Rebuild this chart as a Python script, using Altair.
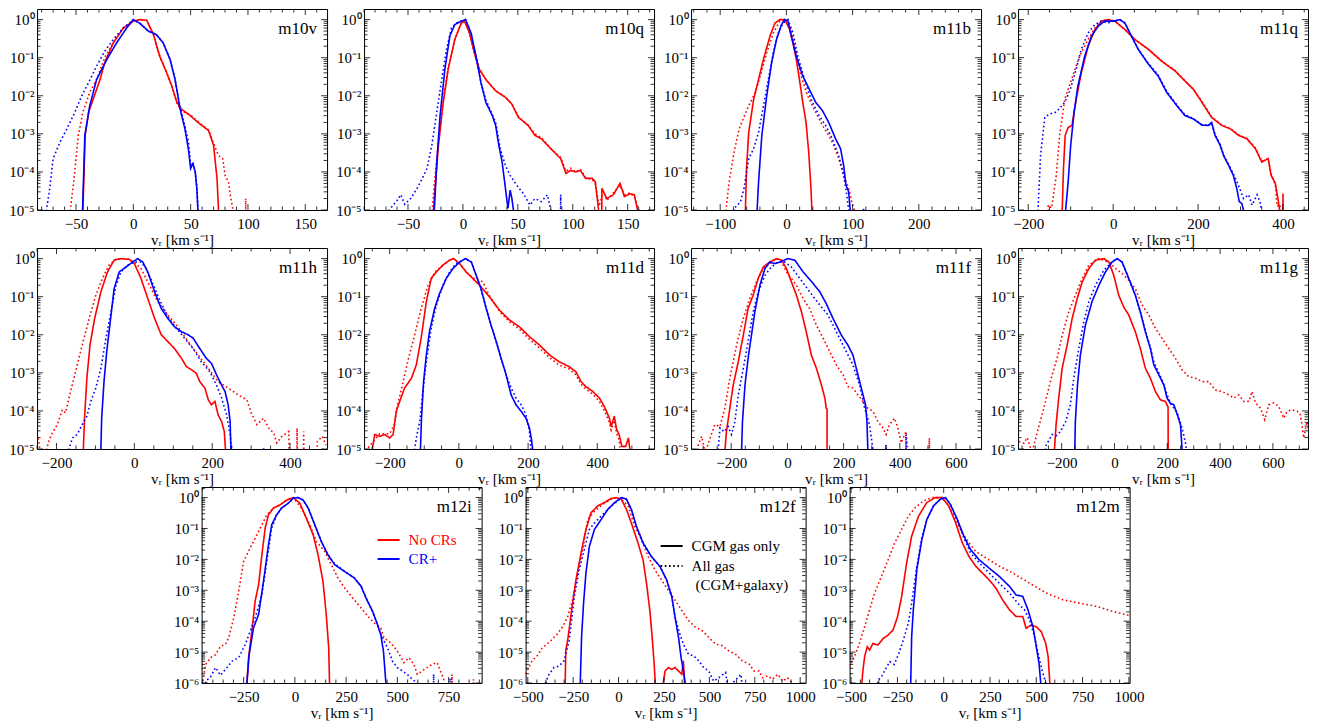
import numpy as np
import pandas as pd
import altair as alt

# each curve: (v_r in km/s, log10 of the normalised distribution)
# points far below the axis (-9) make the curve drop straight to the bottom edge

m10v_nocr_cgm = [(-44, -9), (-44, -5), (-42, -3.04), (-39, -2.43), (-34, -2.0), (-29, -1.57), (-25, -1.13),
                 (-17.5, -0.61), (-8.7, -0.22), (0, -0.04), (5.8, 0), (11.7, -0.02), (17.5, -0.39), (23, -0.96),
                 (29, -1.39), (33.5, -1.74), (38, -2.17), (42, -2.35), (49.6, -2.52), (58, -2.74), (65.6, -2.91),
                 (70, -3.3), (73, -4.17), (74.3, -5), (74.3, -9)]
m10v_nocr_all = [(-57, -9), (-55, -5), (-52, -4.26), (-48, -3.04), (-44, -2.43), (-38, -1.91), (-32, -1.57),
                 (-25, -1.0), (-17.5, -0.61), (-8.7, -0.22), (0, -0.04), (5.8, 0), (11.7, -0.02), (17.5, -0.39),
                 (23, -0.96), (29, -1.39), (33.5, -1.74), (38, -2.2), (42, -2.4), (49.6, -2.5), (58, -2.72),
                 (65.6, -2.9), (70, -3.25), (74.3, -3.57), (78, -3.65), (80, -4.09), (83, -4.26), (84.5, -4.6),
                 (87, -5), (88, -9), (97, -9), (98, -4.7), (99, -9)]
m10v_cr_cgm = [(-44.3, -9), (-44.3, -5), (-42.3, -3.04), (-38, -2.26), (-32, -1.57), (-23, -1.04), (-14.6, -0.61),
               (-5.8, -0.22), (0, 0), (5.8, -0.1), (13, -0.3), (20, -0.39), (26, -0.61), (32, -1.04),
               (36.4, -1.57), (40.8, -2.35), (45, -2.87), (48, -3.39), (50, -3.91), (52, -3.78), (54, -4.0),
               (55.4, -4.43), (56.3, -5), (56.3, -9)]
m10v_cr_all = [(-77, -9), (-75.8, -5), (-72.9, -4.43), (-70, -3.65), (-64, -3.22), (-58, -2.87), (-51, -2.43),
               (-45, -2.0), (-39, -1.65), (-32, -1.22), (-25, -0.83), (-17.5, -0.52), (-8.7, -0.22), (0, 0),
               (5.8, -0.1), (13, -0.3), (20, -0.39), (26, -0.61), (32, -1.04), (36.4, -1.57), (40.8, -2.3),
               (45, -2.8), (48, -3.2), (50, -3.8), (52, -3.75), (54, -4.0), (55.4, -4.4), (56.5, -5), (56.5, -9)]

m10q_nocr_cgm = [(-26.8, -9), (-26.8, -5), (-25.3, -4.43), (-22.3, -3.3), (-17.9, -2.17), (-13.4, -1.3),
                 (-7.4, -0.52), (-1.5, -0.09), (1.5, -0.04), (6, -0.35), (10.4, -0.87), (14.9, -1.3),
                 (20.8, -1.57), (29.8, -1.87), (38.7, -2.04), (44.6, -2.22), (50.6, -2.57), (59.5, -2.78),
                 (65.5, -3.04), (71.4, -3.13), (80, -3.39), (89, -3.65), (93.8, -4.04), (98, -3.96),
                 (102.7, -4.0), (107, -3.96), (111.6, -4.17), (117.6, -4.17), (120.5, -4.26), (123.5, -5),
                 (124, -9), (126, -9), (126.5, -4.43), (131, -4.7), (137, -4.6), (143, -4.3), (147, -4.65),
                 (152, -4.57), (156, -4.6), (159, -5), (159, -9)]
m10q_nocr_all = [(-28, -9), (-28, -5), (-26, -4.3), (-22.3, -3.25), (-17.9, -2.1), (-13.4, -1.28), (-7.4, -0.52),
                 (-1.5, -0.09), (1.5, -0.04), (6, -0.35), (10.4, -0.87), (14.9, -1.3), (20.8, -1.57),
                 (29.8, -1.87), (38.7, -2.04), (44.6, -2.22), (50.6, -2.55), (59.5, -2.78), (65.5, -3.0),
                 (71.4, -3.1), (80, -3.39), (89, -3.62), (93.8, -3.98), (98, -3.9), (102.7, -4.0), (107, -3.93),
                 (111.6, -4.15), (117.6, -4.2), (120.5, -4.3), (124, -4.9), (128, -4.5), (131, -4.75),
                 (137, -4.55), (143, -4.35), (147, -4.6), (152, -4.55), (156, -4.65), (160, -5), (160, -9)]
m10q_cr_cgm = [(-26, -9), (-26, -5), (-23.8, -3.74), (-20.8, -2.52), (-16.4, -1.3), (-11.9, -0.43), (-7.4, -0.13),
               (-1.5, -0.04), (2.4, 0), (7.4, -0.35), (11.9, -0.96), (16.4, -1.65), (20.8, -2.17), (26.8, -2.52),
               (29.8, -2.78), (32.7, -3.3), (35.7, -3.74), (38.7, -4.43), (41, -4.96), (43, -4.48),
               (44.6, -4.7), (46, -5), (46, -9)]
m10q_cr_all = [(-67, -9), (-67, -5), (-60, -4.75), (-56.5, -4.6), (-53, -4.85), (-47.6, -4.7), (-41.7, -4.43),
               (-37, -4.17), (-32.7, -3.91), (-28.3, -3.3), (-23.8, -2.43), (-19.3, -1.57), (-14.9, -0.78),
               (-10.4, -0.22), (-5.8, -0.09), (-1.5, -0.04), (2.4, 0), (7.4, -0.35), (11.9, -0.96),
               (16.4, -1.65), (20.8, -2.1), (26.8, -2.5), (29.8, -2.7), (34, -3.39), (38.7, -3.83), (43, -4.09),
               (49, -4.35), (55, -4.57), (61, -4.87), (65.5, -4.7), (71.4, -4.78), (77, -4.6), (80, -5),
               (80, -9), (88, -9), (89, -4.6), (90, -9)]

m11b_nocr_cgm = [(-61.9, -9), (-61.9, -5), (-60.2, -3.91), (-56.9, -2.96), (-49.4, -2.09), (-42, -1.57),
                 (-34.6, -1.04), (-24.7, -0.43), (-17.3, -0.09), (-9.9, 0), (-2.4, 0), (5, -0.26), (9.9, -0.61),
                 (14.9, -1.04), (19.7, -1.57), (24.7, -2.17), (29.7, -2.7), (33.7, -3.48), (37.1, -4.43),
                 (38.5, -5), (38.5, -9)]
m11b_nocr_all = [(-92, -9), (-91.2, -5), (-86.5, -4.26), (-79, -3.48), (-71.4, -2.87), (-59.2, -2.35),
                 (-47, -1.91), (-39.5, -1.48), (-29.7, -0.87), (-19.7, -0.35), (-9.9, -0.04), (0, 0), (7.4, -0.26),
                 (14.9, -0.87), (22.3, -1.48), (32, -2.0), (44.2, -2.43), (54.5, -2.78), (63.9, -3.04),
                 (71.4, -3.3), (79, -3.65), (86.5, -4.09), (94, -4.43), (98.7, -4.78), (102.5, -5), (102.5, -9)]
m11b_cr_cgm = [(-44.2, -9), (-44.2, -5), (-42, -4.26), (-37.1, -3.04), (-29.7, -2.0), (-22.3, -1.13),
               (-14.9, -0.52), (-7.4, -0.13), (-2.4, 0), (2.4, -0.04), (7.4, -0.43), (14.9, -0.96), (24.7, -1.48),
               (34.6, -1.83), (44.2, -2.17), (54.5, -2.39), (63.9, -2.7), (74.3, -3.13), (81.8, -3.39),
               (86.5, -3.83), (90, -4.35), (94, -4.52), (96.4, -5), (96.4, -9)]
m11b_cr_all = [(-80, -9), (-79, -4.95), (-75.2, -4.9), (-69.3, -4.78), (-63.9, -4.43), (-56.9, -3.65),
               (-49.4, -3.39), (-42, -2.96), (-34.6, -2.26), (-27.3, -1.57), (-19.7, -0.87), (-12.2, -0.35),
               (-5, -0.09), (2.4, 0), (9.9, -0.35), (17.3, -0.96), (27.3, -1.57), (37.1, -2.09), (49.4, -2.52),
               (59.2, -2.78), (69.3, -3.13), (79, -3.57), (86.5, -4.09), (91.2, -4.6), (94, -5), (94, -9),
               (115.6, -9), (116.6, -4.95), (117.5, -9)]

m11q_nocr_cgm = [(-120, -9), (-120, -5), (-117, -3.91), (-113, -3.04), (-106, -2.83), (-97, -2.78), (-87, -2.09),
                 (-75, -1.39), (-59, -0.7), (-43, -0.26), (-27.6, -0.04), (-11.8, 0), (4, -0.04), (27.6, -0.26),
                 (51, -0.52), (83, -0.78), (114, -1.09), (146, -1.35), (169, -1.61), (189, -1.83), (209, -2.17),
                 (232, -2.57), (256, -2.78), (276, -2.87), (295, -3.04), (315, -3.13), (335, -3.39),
                 (350, -3.74), (365, -3.65), (372, -4.09), (382, -4.3), (388, -4.7), (392, -5), (392, -9),
                 (399, -9), (400, -4.57), (401, -9)]
m11q_nocr_all = [(-155, -9), (-153, -4.87), (-145, -4.95), (-134, -4.09), (-126, -3.04), (-114, -2.09),
                 (-98, -1.57), (-79, -0.96), (-59, -0.52), (-43, -0.22), (-27.6, -0.04), (-11.8, 0), (4, -0.04),
                 (27.6, -0.26), (51, -0.52), (83, -0.78), (114, -1.08), (146, -1.34), (169, -1.6), (189, -1.83),
                 (209, -2.15), (232, -2.55), (256, -2.77), (276, -2.86), (295, -3.02), (315, -3.12),
                 (335, -3.37), (350, -3.72), (365, -3.66), (372, -4.05), (382, -4.35), (386, -4.9),
                 (392, -4.85), (395, -5), (395, -9)]
m11q_cr_cgm = [(-112, -9), (-112, -5), (-106, -4.26), (-100, -3.3), (-92, -2.43), (-83, -1.74), (-67, -0.96),
               (-51, -0.43), (-35, -0.17), (-20, -0.04), (4, -0.04), (16, 0), (27.6, -0.09), (43, -0.43),
               (59, -0.78), (83, -1.17), (106, -1.48), (126, -1.91), (150, -2.26), (169, -2.52), (189, -2.61),
               (209, -2.77), (224, -2.78), (232, -2.7), (240, -3.04), (252, -3.3), (260, -3.57), (272, -3.83),
               (283, -4.09), (291, -4.43), (297, -4.78), (303, -4.83), (307, -5), (307, -9)]
m11q_cr_all = [(-178, -9), (-177, -5), (-171, -3.57), (-161, -2.57), (-150, -2.48), (-134, -2.43), (-114, -2.17),
               (-102, -1.87), (-87, -1.3), (-75, -0.78), (-59, -0.35), (-43, -0.13), (-27.6, -0.04),
               (-12, -0.09), (4, -0.02), (16, 0), (27.6, -0.09), (43, -0.43), (59, -0.78), (83, -1.15),
               (106, -1.46), (126, -1.88), (150, -2.24), (169, -2.5), (189, -2.6), (209, -2.76), (224, -2.78),
               (232, -2.72), (240, -3.02), (252, -3.28), (260, -3.55), (272, -3.8), (283, -4.05), (295, -4.35),
               (307, -4.7), (319, -4.6), (327, -4.87), (339, -4.6), (346, -4.78), (349, -5), (349, -9)]

m11h_nocr_cgm = [(-131, -9), (-131, -5), (-128, -4.19), (-122, -3.14), (-114, -2.27), (-102, -1.57),
                 (-86, -0.87), (-69, -0.35), (-52, -0.04), (-34.5, 0), (-13, -0.02), (0, -0.13), (17, -0.52),
                 (34.5, -1.05), (52, -1.57), (69, -2.0), (86, -2.18), (103, -2.36), (121, -2.62), (134, -2.84),
                 (147, -2.92), (159, -3.01), (168, -3.23), (181, -3.4), (190, -3.71), (198, -3.84),
                 (207, -3.75), (215, -4.1), (224, -4.28), (231, -4.54), (234, -5), (234, -9)]
m11h_nocr_all = [(-247, -4.71), (-240, -5.2), (-230, -5.2), (-220, -4.8), (-211, -4.58), (-198, -4.36),
                 (-185, -3.97), (-177, -4.05), (-164, -3.49), (-151, -2.97), (-134, -2.27), (-116, -1.57),
                 (-99, -0.96), (-82, -0.52), (-65, -0.17), (-48, -0.02), (-34.5, 0), (-13, -0.02), (0, -0.1),
                 (17, -0.26), (39, -0.7), (60, -1.13), (86, -1.48), (112, -1.79), (138, -2.18), (164, -2.53),
                 (190, -2.88), (215, -3.23), (241, -3.4), (267, -3.58), (289, -3.71), (302, -4.1), (315, -4.36),
                 (332, -4.19), (345, -4.45), (358, -4.58), (366, -4.84), (379, -4.67), (397, -4.54), (400, -9),
                 (416, -9), (418, -4.45), (422, -9), (433, -9), (435, -4.54), (438, -9), (466, -9), (470, -4.8),
                 (483, -4.67), (492, -4.9)]
m11h_cr_cgm = [(-86, -9), (-86, -5), (-84, -4.19), (-78, -3.23), (-71, -2.44), (-62, -1.66), (-52, -0.79),
               (-39, -0.35), (-21.5, -0.22), (-4.3, -0.09), (8.6, 0), (21.5, -0.09), (34.5, -0.35), (52, -0.87),
               (69, -1.31), (86, -1.57), (103, -1.79), (121, -1.92), (138, -2.0), (151, -2.09), (168, -2.36),
               (185, -2.62), (198, -2.75), (211, -3.05), (224, -3.32), (233, -3.49), (241, -3.84),
               (246, -4.28), (248, -5), (248, -9)]
m11h_cr_all = [(-169, -9), (-168, -5), (-159, -4.71), (-147, -4.62), (-134, -4.36), (-122, -4.14),
               (-112, -3.75), (-99, -3.4), (-86, -2.88), (-73, -2.09), (-60, -1.4), (-47, -0.7), (-34.5, -0.35),
               (-17, -0.17), (0, -0.09), (17, -0.09), (30, -0.26), (47, -0.65), (65, -1.09), (86, -1.53),
               (108, -1.83), (129, -2.09), (151, -2.36), (172, -2.71), (194, -2.97), (211, -3.32), (224, -3.66),
               (237, -4.1), (246, -4.62), (250, -5), (250, -9), (330, -9), (332, -4.97), (334, -9)]

m11d_nocr_cgm = [(-250, -9), (-250, -5), (-243, -4.62), (-229, -4.67), (-214, -4.62), (-200, -4.71),
                 (-190, -4.62), (-181, -4.01), (-171, -3.75), (-157, -3.4), (-137, -3.14), (-123, -2.79),
                 (-109, -2.09), (-94, -1.13), (-80, -0.52), (-65, -0.35), (-46, -0.17), (-27, -0.04), (-15, 0),
                 (2, -0.13), (21, -0.35), (40, -0.52), (60, -0.7), (88, -1.0), (117, -1.35), (146, -1.61),
                 (175, -1.79), (204, -2.05), (233, -2.27), (262, -2.53), (290, -2.71), (319, -2.84),
                 (338, -2.97), (353, -3.23), (367, -3.36), (387, -3.49), (406, -3.66), (420, -3.88),
                 (435, -4.19), (440, -4.41), (449, -4.14), (456, -4.49), (463, -4.62), (471, -4.93),
                 (482, -4.93), (490, -4.71), (494, -5), (494, -9)]
m11d_nocr_all = [(-262, -4.97), (-229, -4.6), (-200, -4.6), (-186, -4.36), (-176, -3.8), (-161, -3.23),
                 (-148, -2.71), (-128, -2.01), (-109, -1.31), (-89, -0.7), (-69, -0.35), (-46, -0.17),
                 (-27, -0.04), (-15, 0), (2, -0.13), (21, -0.35), (40, -0.5), (69, -0.61), (88, -0.97),
                 (117, -1.38), (146, -1.66), (175, -1.85), (204, -2.12), (233, -2.35), (262, -2.6), (290, -2.8),
                 (319, -2.9), (338, -3.05), (353, -3.3), (367, -3.42), (387, -3.56), (406, -3.75), (420, -3.98),
                 (435, -4.3), (440, -4.5), (449, -4.25), (456, -4.6), (463, -4.75), (466, -5), (466, -9)]
m11d_cr_cgm = [(-111, -9), (-111, -5), (-108, -4.19), (-102, -3.23), (-94, -2.53), (-85, -1.92), (-70, -1.31),
               (-56, -0.92), (-36.5, -0.52), (-17, -0.26), (2, -0.09), (19, 0), (36, -0.09), (50, -0.44),
               (64, -0.79), (79, -1.31), (93, -1.75), (108, -2.18), (122, -2.62), (136.5, -3.05), (151, -3.58),
               (165, -3.84), (180, -4.01), (194, -4.19), (204, -4.45), (210, -4.76), (213, -5), (213, -9)]
m11d_cr_all = [(-128, -9), (-128, -5), (-121, -4.62), (-113, -4.28), (-104, -3.49), (-94, -2.71), (-80, -1.83),
               (-65, -1.22), (-46, -0.7), (-27, -0.35), (-8, -0.13), (2, -0.09), (19, 0), (36, -0.09),
               (50, -0.44), (64, -0.79), (79, -1.31), (93, -1.75), (108, -2.18), (122, -2.62), (136.5, -3.05),
               (151, -3.4), (165, -3.66), (180, -3.84), (194, -4.1), (204, -4.54), (208, -5), (208, -9)]

m11f_nocr_cgm = [(-222, -9), (-222, -5), (-217, -4.54), (-205, -3.93), (-193, -3.32), (-175, -2.71),
                 (-157, -2.01), (-140, -1.31), (-122, -0.96), (-104, -0.52), (-86, -0.22), (-63, -0.09),
                 (-39, 0), (-21, -0.04), (-3.6, -0.26), (14, -0.61), (32, -0.96), (50, -1.4), (67, -1.92),
                 (85, -2.53), (103, -2.88), (121, -3.32), (133, -3.66), (138, -3.93), (141, -3.95), (141, -9)]
m11f_nocr_all = [(-320, -9), (-317, -4.89), (-305, -4.67), (-293, -5.1), (-270, -4.6), (-258, -4.36),
                 (-240, -4.41), (-222, -3.9), (-205, -3.14), (-181, -2.27), (-157, -1.57), (-134, -1.05),
                 (-110, -0.61), (-86, -0.26), (-63, -0.13), (-39, 0), (-21, -0.09), (-3.6, -0.35), (14, -0.52),
                 (32, -0.7), (56, -1.05), (79, -1.31), (103, -1.75), (127, -2.09), (150, -2.44), (174, -2.79),
                 (198, -3.05), (215, -3.36), (233, -3.4), (251, -3.58), (269, -3.75), (286, -3.93), (304, -4.01),
                 (322, -4.28), (340, -4.45), (351, -4.62), (363, -4.36), (381, -4.19), (393, -4.45),
                 (405, -4.84), (422, -4.54), (428, -5), (428, -9), (503, -9), (505, -4.71), (507, -9)]
m11f_cr_cgm = [(-163, -9), (-163, -5), (-160, -4.28), (-151, -3.32), (-140, -2.62), (-128, -2.01), (-116, -1.4),
               (-98, -0.7), (-80, -0.26), (-63, -0.09), (-45, -0.13), (-27, -0.09), (2, 0), (26, -0.04),
               (56, -0.35), (91, -0.65), (115, -0.87), (138, -1.18), (162, -1.57), (192, -2.01), (215, -2.27),
               (233, -2.53), (245, -2.88), (257, -3.23), (269, -3.58), (278, -3.84), (283, -4.28), (286, -5),
               (286, -9)]
m11f_cr_all = [(-246, -9), (-246, -5), (-240, -4.45), (-225, -4.55), (-211, -4.41), (-199, -4.62),
               (-187, -4.28), (-175, -3.58), (-157, -2.88), (-140, -2.18), (-122, -1.4), (-104, -0.87),
               (-80, -0.44), (-57, -0.22), (-33, -0.09), (-9.5, -0.09), (14, -0.22), (44, -0.52), (79, -0.87),
               (115, -1.22), (144, -1.48), (174, -1.92), (204, -2.36), (233, -2.79), (257, -3.32), (275, -3.93),
               (292, -4.36), (304, -5), (304, -9), (349, -9), (351, -4.89), (353, -9), (420, -9),
               (422, -4.62), (424, -9)]

m11g_nocr_cgm = [(-227, -9), (-227, -5), (-221, -4.36), (-211, -3.66), (-198, -2.88), (-179, -2.27),
                 (-160, -1.57), (-141, -1.05), (-122, -0.61), (-97, -0.26), (-72, -0.04), (-40, 0), (-21, -0.09),
                 (-2.5, -0.44), (16, -0.96), (35, -1.27), (54, -1.48), (79, -1.92), (98, -2.36), (117, -2.88),
                 (136, -3.14), (155, -3.49), (174, -3.71), (193, -3.75), (203, -3.9), (205, -9)]
m11g_nocr_all = [(-362, -4.8), (-343, -4.85), (-330, -4.7), (-312, -5.1), (-293, -4.58), (-274, -4.1),
                 (-255, -3.58), (-236, -3.05), (-217, -2.62), (-198, -2.01), (-173, -1.4), (-148, -0.96),
                 (-122, -0.52), (-97, -0.17), (-60, 0), (-21, -0.09), (4, -0.26), (29, -0.39), (54, -0.57),
                 (79, -0.79), (105, -1.22), (130, -1.48), (155, -1.83), (180, -2.09), (206, -2.36), (231, -2.62),
                 (256, -2.92), (281, -3.1), (307, -3.14), (332, -3.23), (357, -3.23), (382, -3.45), (408, -3.49),
                 (433, -3.58), (452, -3.66), (471, -3.58), (490, -3.75), (509, -3.75), (521, -3.49),
                 (534, -3.79), (553, -3.93), (569, -4.23), (584, -3.84), (603, -3.79), (622, -3.88),
                 (641, -4.19), (654, -4.01), (673, -3.97), (692, -4.01), (704, -4.1), (717, -4.71),
                 (729, -4.28), (735, -4.5)]
m11g_cr_cgm = [(-150, -9), (-150, -5), (-148, -4.28), (-140, -3.32), (-129, -2.53), (-110, -1.75), (-85, -1.13),
               (-59, -0.7), (-34, -0.35), (-9, -0.09), (10, 0), (29, -0.09), (54, -0.52), (79, -0.96),
               (98, -1.4), (117, -1.92), (136, -2.36), (149, -2.79), (168, -3.05), (187, -3.32), (199, -3.66),
               (212, -3.8), (225, -3.84), (238, -4.1), (250, -4.36), (256, -5), (256, -9)]
m11g_cr_all = [(-263, -9), (-261, -4.93), (-236, -4.62), (-220, -4.65), (-204, -4.54), (-185, -4.28),
               (-167, -3.84), (-154, -3.14), (-135, -2.36), (-116, -1.66), (-97, -1.13), (-72, -0.7),
               (-40, -0.3), (-9, -0.09), (10, 0), (29, -0.09), (54, -0.52), (79, -0.96), (98, -1.4),
               (117, -1.9), (136, -2.33), (149, -2.72), (168, -3.0), (187, -3.3), (199, -3.57), (212, -3.8),
               (238, -4.05), (256, -4.45), (269, -4.84), (272, -5), (272, -9)]

m12i_nocr_cgm = [(-234, -9), (-234, -6), (-226, -5.18), (-210, -4.32), (-194, -3.35), (-177, -2.82),
                 (-161, -1.85), (-145, -0.99), (-129, -0.56), (-105, -0.34), (-73, -0.24), (-40, -0.08), (-8, 0),
                 (24, -0.18), (56, -0.67), (89, -1.2), (113, -1.85), (137, -2.71), (153, -3.78), (165, -4.86),
                 (169, -6), (169, -9)]
m12i_nocr_all = [(-456, -6.2), (-435, -5.4), (-411, -5.18), (-387, -5.08), (-363, -4.81), (-339, -4.75),
                 (-323, -4.54), (-298, -3.89), (-274, -3.03), (-250, -2.06), (-226, -1.74), (-202, -1.42),
                 (-169, -0.99), (-137, -0.56), (-105, -0.34), (-73, -0.24), (-40, -0.08), (-8, 0), (32, -0.34),
                 (73, -0.88), (105, -1.42), (145, -1.74), (177, -2.17), (210, -2.6), (242, -2.92), (282, -3.25),
                 (323, -3.57), (363, -3.89), (395, -4.11), (419, -4.22), (435, -4.54), (468, -4.7), (500, -4.97),
                 (532, -5.34), (556, -5.18), (581, -5.4), (597, -5.72), (621, -5.61), (645, -5.5), (669, -5.4),
                 (694, -5.34), (710, -5.61), (726, -5.88), (740, -9), (764, -9), (766, -5.72), (770, -9),
                 (868, -9), (871, -5.88), (874, -9)]
m12i_cr_cgm = [(-234, -9), (-234, -6), (-223, -5.08), (-202, -4.22), (-177, -3.78), (-153, -2.71), (-129, -1.53),
               (-113, -0.88), (-89, -0.56), (-65, -0.34), (-32, -0.18), (-8, -0.02), (16, 0), (40, -0.08),
               (65, -0.34), (97, -0.88), (129, -1.42), (161, -1.85), (194, -2.17), (242, -2.39), (290, -2.6),
               (323, -2.87), (347, -3.25), (379, -3.68), (403, -4.11), (419, -4.43), (432, -4.97), (444, -6),
               (444, -9)]
m12i_cr_all = [(-437, -9), (-435, -5.94), (-411, -5.8), (-387, -5.5), (-363, -5.75), (-331, -5.5),
               (-306, -5.29), (-274, -5.18), (-242, -4.75), (-218, -4.32), (-194, -3.89), (-161, -3.14),
               (-137, -2.06), (-113, -0.99), (-89, -0.56), (-65, -0.34), (-32, -0.18), (-8, -0.02), (16, 0),
               (40, -0.08), (65, -0.34), (97, -0.88), (129, -1.42), (161, -1.85), (194, -2.15), (242, -2.38),
               (290, -2.6), (323, -2.87), (347, -3.25), (379, -3.68), (403, -4.11), (419, -4.43), (452, -4.86),
               (476, -5.29), (500, -5.5), (524, -5.61), (548, -5.72), (573, -5.88), (597, -6.0), (600, -9),
               (675, -9), (677, -5.72), (680, -9), (755, -9), (757, -5.85), (760, -9)]

m12f_nocr_cgm = [(-294, -9), (-294, -6), (-291, -4.96), (-278, -4.52), (-259, -3.65), (-235, -2.67),
                 (-207, -1.8), (-180, -1.03), (-152, -0.49), (-115, -0.27), (-78, -0.16), (-41, -0.03), (-13, 0),
                 (15, -0.05), (43, -0.38), (70, -0.82), (107, -1.47), (135, -2.02), (154, -2.78), (172, -3.65),
                 (185, -4.52), (196, -5.39), (202, -6), (202, -9), (246, -9), (246, -6), (256, -5.61),
                 (274, -5.5), (293, -5.56), (311, -5.5), (330, -5.61), (348, -5.72), (357, -5.28), (363, -6),
                 (363, -9)]
m12f_nocr_all = [(-512, -5.7), (-504, -5.61), (-476, -5.28), (-448, -5.12), (-420, -4.85), (-393, -4.74),
                 (-365, -4.58), (-337, -4.41), (-309, -4.19), (-281, -3.87), (-254, -3.32), (-226, -2.45),
                 (-198, -1.69), (-170, -0.71), (-133, -0.44), (-87, -0.22), (-41, -0.05), (-13, 0), (15, -0.05),
                 (52, -0.27), (89, -0.93), (126, -1.36), (163, -1.91), (200, -2.34), (237, -2.67), (274, -3.0),
                 (311, -3.32), (348, -3.65), (385, -3.98), (422, -4.19), (459, -4.3), (496, -4.52), (533, -4.74),
                 (570, -4.79), (607, -4.96), (644, -5.07), (681, -5.28), (719, -5.39), (746, -5.61),
                 (774, -5.61), (793, -5.83), (820, -5.77), (848, -5.88), (876, -5.72), (904, -5.94),
                 (931, -5.83), (970, -6.1)]
m12f_cr_cgm = [(-211, -9), (-211, -6), (-204, -4.52), (-193, -3.43), (-180, -2.45), (-161, -1.58), (-133, -1.03),
               (-96, -0.71), (-59, -0.38), (-22, -0.16), (15, 0), (43, -0.05), (70, -0.38), (98, -0.93),
               (135, -1.47), (181, -1.91), (228, -2.23), (265, -2.67), (293, -3.21), (311, -3.87), (330, -4.52),
               (344, -5.17), (357, -5.61), (367, -6), (367, -9)]
m12f_cr_all = [(-405, -9), (-402, -6), (-383, -5.72), (-356, -5.5), (-328, -5.45), (-300, -5.28), (-272, -4.63),
               (-244, -3.21), (-217, -2.34), (-189, -1.69), (-161, -1.03), (-133, -0.82), (-96, -0.6),
               (-50, -0.33), (-5, -0.11), (15, 0), (43, -0.05), (70, -0.38), (98, -0.93), (135, -1.47),
               (181, -1.91), (228, -2.23), (265, -2.67), (293, -3.2), (311, -3.87), (337, -4.41), (357, -4.74),
               (385, -5.07), (413, -5.12), (441, -5.28), (469, -5.5), (496, -5.61), (524, -5.94), (552, -5.83),
               (589, -5.66), (600, -6.1), (620, -6.05), (674, -5.72), (680, -6.1)]

m12m_nocr_cgm = [(-442, -9), (-442, -6), (-436, -5.59), (-427, -5.15), (-413, -4.83), (-400, -4.93),
                 (-382, -4.72), (-355, -4.77), (-327, -4.56), (-300, -4.45), (-273, -4.28), (-249, -3.85),
                 (-227, -3.2), (-200, -2.11), (-173, -1.25), (-136, -0.6), (-91, -0.16), (-45, 0), (-9, 0),
                 (27, -0.27), (64, -0.81), (100, -1.46), (136, -1.9), (173, -2.22), (209, -2.44), (245, -2.66),
                 (282, -2.93), (318, -3.31), (355, -3.63), (391, -3.85), (427, -3.85), (445, -4.23),
                 (473, -4.12), (500, -4.18), (527, -4.34), (551, -4.72), (564, -5.15), (573, -6), (573, -9)]
m12m_nocr_all = [(-509, -5.48), (-482, -5.15), (-455, -4.72), (-427, -4.18), (-400, -3.63), (-373, -3.09),
                 (-336, -2.55), (-300, -2.01), (-264, -1.46), (-227, -1.03), (-191, -0.6), (-155, -0.33),
                 (-109, -0.11), (-64, 0), (-9, 0), (27, -0.27), (64, -0.7), (100, -1.14), (136, -1.46),
                 (173, -1.74), (227, -1.95), (300, -2.22), (373, -2.44), (464, -2.77), (555, -3.09), (645, -3.31),
                 (736, -3.42), (827, -3.52), (918, -3.69), (991, -3.8), (1005, -3.82)]
m12m_cr_cgm = [(-178, -9), (-178, -6), (-173, -4.5), (-164, -3.63), (-145, -2.33), (-118, -1.36), (-91, -0.71),
               (-55, -0.27), (-18, -0.05), (9, 0), (36, -0.22), (73, -0.7), (109, -1.25), (145, -1.68),
               (191, -2.01), (245, -2.28), (300, -2.55), (355, -2.87), (391, -3.15), (427, -3.2), (455, -3.63),
               (482, -4.18), (500, -4.83), (515, -5.37), (524, -6), (524, -9)]
m12m_cr_all = [(-357, -9), (-355, -5.91), (-336, -5.8), (-318, -5.59), (-291, -5.31), (-267, -5.4),
               (-242, -5.04), (-218, -4.61), (-191, -4.07), (-173, -3.42), (-145, -2.22), (-118, -1.3),
               (-91, -0.71), (-55, -0.27), (-18, -0.05), (9, 0), (36, -0.22), (73, -0.7), (109, -1.3),
               (145, -1.79), (191, -2.11), (245, -2.44), (300, -2.77), (355, -3.09), (400, -3.42), (436, -3.63),
               (464, -3.96), (491, -4.5), (518, -5.26), (536, -5.69), (551, -6), (551, -9)]

# x range and labelled tick step of each panel
x_ranges = {"m10v": [-84, 169], "m10q": [-90, 174], "m11b": [-144, 294], "m11q": [-224, 459],
            "m11h": [-250, 495], "m11d": [-274, 564], "m11f": [-343, 689], "m11g": [-365, 733],
            "m12i": [-455, 911], "m12f": [-512, 1030], "m12m": [-508, 1004]}
x_steps = {"m10v": 50, "m10q": 50, "m11b": 100, "m11q": 200, "m11h": 200, "m11d": 200, "m11f": 200,
           "m11g": 200, "m12i": 250, "m12f": 250, "m12m": 250}

RED = "#ff0000"
BLUE = "#0000ff"
FONT = "Liberation Serif"
RUNS = ["No CRs", "No CRs", "CR+", "CR+"]
GASES = ["CGM gas only", "All gas", "CGM gas only", "All gas"]
SUP = "['⁰','⁻¹','⁻²','⁻³','⁻⁴','⁻⁵','⁻⁶']"


def tick_rules(values, channel, start, length, scale, axis):
    # inward ticks drawn as short rules; they carry the same axis as the curves
    base = alt.Chart(pd.DataFrame({channel: values})).mark_rule(color="black", strokeWidth=0.8)
    if channel == "f":
        return base.encode(y=alt.Y("f:Q", scale=scale, axis=axis),
                           x=alt.value(start), x2=alt.value(start + length))
    return base.encode(x=alt.X("v:Q", scale=scale, axis=axis),
                       y=alt.value(start), y2=alt.value(start + length))


def panel(name, curves, w, h, ylow, ytop, extra=()):
    frames = []
    for pts, run, gas in zip(curves, RUNS, GASES):
        frames.append(pd.DataFrame({
            "v": [p[0] for p in pts],
            "f": [10.0 ** p[1] for p in pts],
            "run": run, "gas": gas, "key": run + "|" + gas,
            "i": range(len(pts))}))
    df = pd.concat(frames, ignore_index=True)

    xdom = x_ranges[name]
    step = x_steps[name]
    sub = 4 if step == 200 else 5
    xs = alt.Scale(domain=xdom, nice=False, zero=False)
    ys = alt.Scale(type="log", domain=[ylow, ytop], nice=False)

    kmin = int(round(np.log10(ylow)))
    y_major = [10.0 ** k for k in range(kmin, 1)]
    y_minor = [m * 10.0 ** k for k in range(kmin, 1) for m in range(2, 10) if m * 10.0 ** k < ytop]
    x_major = [float(t) for t in np.arange(np.ceil(xdom[0] / step) * step, xdom[1] + 1e-9, step)]
    fine = np.arange(np.ceil(xdom[0] / (step / sub)) * (step / sub), xdom[1] + 1e-9, step / sub)
    x_minor = [float(t) for t in fine if not np.isclose(t / step, round(t / step))]

    x_axis = alt.Axis(values=x_major, format="d", title="vᵣ [km s⁻¹]",
                      labelFontSize=15, titleFontSize=15,
                      labelFlush=False, labelOverlap=False, labelPadding=6, titlePadding=1)
    y_axis = alt.Axis(values=y_major, title=None, labelPadding=3, labelFontSize=15,
                      labelExpr="'10' + " + SUP + "[round(-log(datum.value) / LN10)]")

    lines = alt.Chart(df).mark_line(clip=True, strokeWidth=1.6, strokeCap="butt").encode(
        x=alt.X("v:Q", scale=xs, axis=x_axis),
        y=alt.Y("f:Q", scale=ys, axis=y_axis),
        color=alt.Color("run:N", scale=alt.Scale(domain=["No CRs", "CR+"], range=[RED, BLUE]), legend=None),
        strokeDash=alt.StrokeDash("gas:N", scale=alt.Scale(domain=["CGM gas only", "All gas"],
                                                           range=[[1, 0], [1.6, 2.6]]), legend=None),
        detail="key:N",
        order="i:Q",
    )

    label = alt.Chart(pd.DataFrame({"name": [name]})).mark_text(
        align="right", baseline="top", fontSize=17, font=FONT, color="black").encode(
        text="name:N", x=alt.value(w - 10), y=alt.value(12))

    ticks = [
        tick_rules(y_major, "f", 0, 6, ys, y_axis), tick_rules(y_major, "f", w - 6, 6, ys, y_axis),
        tick_rules(y_minor, "f", 0, 3.5, ys, y_axis), tick_rules(y_minor, "f", w - 3.5, 3.5, ys, y_axis),
        tick_rules(x_major, "v", h - 6, 6, xs, x_axis), tick_rules(x_major, "v", 0, 6, xs, x_axis),
        tick_rules(x_minor, "v", h - 3.5, 3.5, xs, x_axis), tick_rules(x_minor, "v", 0, 3.5, xs, x_axis),
    ]
    return alt.layer(lines, *ticks, label, *extra).properties(width=w, height=h)


def legend_entry(x0, y0, color, dash, text, text_color):
    one = pd.DataFrame({"t": [text]})
    rule = alt.Chart(one).mark_rule(color=color, strokeWidth=1.8, strokeDash=dash, strokeCap="butt").encode(
        x=alt.value(x0), x2=alt.value(x0 + 22), y=alt.value(y0))
    txt = alt.Chart(one).mark_text(align="left", baseline="middle", fontSize=15, font=FONT,
                                   color=text_color).encode(
        text="t:N", x=alt.value(x0 + 31), y=alt.value(y0))
    return [rule, txt]


def caption(x0, y0, text):
    return alt.Chart(pd.DataFrame({"t": [text]})).mark_text(
        align="left", baseline="middle", fontSize=15, font=FONT, color="black").encode(
        text="t:N", x=alt.value(x0), y=alt.value(y0))


W1, H1 = 290, 201
W3, H3 = 280, 196
top_lo, top_hi = 1e-5, 1.9
bot_lo, bot_hi = 1e-6, 2.2

row1 = alt.hconcat(
    panel("m10v", [m10v_nocr_cgm, m10v_nocr_all, m10v_cr_cgm, m10v_cr_all], W1, H1, top_lo, top_hi),
    panel("m10q", [m10q_nocr_cgm, m10q_nocr_all, m10q_cr_cgm, m10q_cr_all], W1, H1, top_lo, top_hi),
    panel("m11b", [m11b_nocr_cgm, m11b_nocr_all, m11b_cr_cgm, m11b_cr_all], W1, H1, top_lo, top_hi),
    panel("m11q", [m11q_nocr_cgm, m11q_nocr_all, m11q_cr_cgm, m11q_cr_all], W1, H1, top_lo, top_hi),
    spacing=37, bounds="flush")

row2 = alt.hconcat(
    panel("m11h", [m11h_nocr_cgm, m11h_nocr_all, m11h_cr_cgm, m11h_cr_all], W1, H1, top_lo, top_hi),
    panel("m11d", [m11d_nocr_cgm, m11d_nocr_all, m11d_cr_cgm, m11d_cr_all], W1, H1, top_lo, top_hi),
    panel("m11f", [m11f_nocr_cgm, m11f_nocr_all, m11f_cr_cgm, m11f_cr_all], W1, H1, top_lo, top_hi),
    panel("m11g", [m11g_nocr_cgm, m11g_nocr_all, m11g_cr_cgm, m11g_cr_all], W1, H1, top_lo, top_hi),
    spacing=37, bounds="flush")

run_legend = (legend_entry(176, 53, RED, [1, 0], "No CRs", RED)
              + legend_entry(176, 72, BLUE, [1, 0], "CR+", BLUE))
gas_legend = (legend_entry(135, 59, "black", [1, 0], "CGM gas only", "black")
              + legend_entry(135, 79, "black", [1.6, 2.6], "All gas", "black")
              + [caption(170, 98, "(CGM+galaxy)")])

row3 = alt.hconcat(
    panel("m12i", [m12i_nocr_cgm, m12i_nocr_all, m12i_cr_cgm, m12i_cr_all], W3, H3, bot_lo, bot_hi,
          extra=run_legend),
    panel("m12f", [m12f_nocr_cgm, m12f_nocr_all, m12f_cr_cgm, m12f_cr_all], W3, H3, bot_lo, bot_hi,
          extra=gas_legend),
    panel("m12m", [m12m_nocr_cgm, m12m_nocr_all, m12m_cr_cgm, m12m_cr_all], W3, H3, bot_lo, bot_hi),
    spacing=44, bounds="flush")

chart = alt.vconcat(row1, row2, row3, spacing=-6, center=True).properties(
    padding=0
).configure(font=FONT).configure_axis(
    labelFont=FONT, titleFont=FONT, labelFontSize=15, titleFontSize=15,
    labelColor="black", titleColor="black", titleFontWeight="normal",
    domain=False, ticks=False, grid=False
).configure_view(stroke="black", strokeWidth=1)

chart.save("out.html", embed_options={"renderer": "svg", "actions": False})
